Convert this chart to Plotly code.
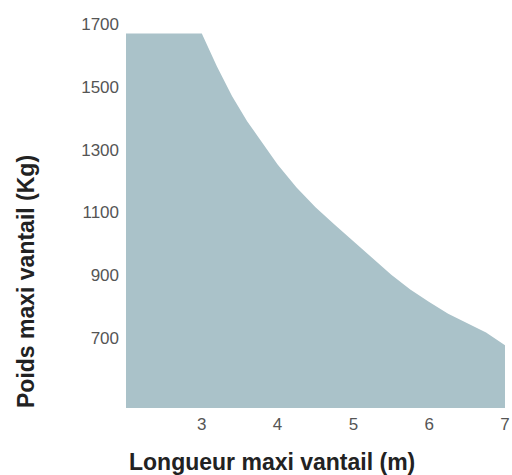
import plotly.graph_objects as go

longueur = [2, 3, 3.2, 3.4, 3.6, 3.8, 4, 4.25, 4.5, 4.75, 5, 5.25, 5.5, 5.75, 6, 6.25, 6.5, 6.75, 7]
poids = [1670, 1670, 1565, 1470, 1390, 1320, 1253, 1180, 1117, 1062, 1009, 957, 902, 855, 815, 778, 748, 718, 678]
x_ticks = [3, 4, 5, 6, 7]
y_ticks = [700, 900, 1100, 1300, 1500, 1700]
y_min = 478

fig = go.Figure()
fig.add_trace(go.Scatter(
    x=longueur, y=poids, mode="lines", line=dict(width=0, color="#aac2c9"),
    fill="tozeroy", fillcolor="#aac2c9", hoverinfo="skip", showlegend=False,
))

fig.update_layout(
    width=512, height=475,
    margin=dict(l=126, r=7, t=24, b=67),
    paper_bgcolor="white", plot_bgcolor="white",
    font=dict(family="Liberation Sans, Arial, sans-serif", color="#444444"),
    xaxis=dict(range=[2, 7], tickvals=x_ticks, showgrid=False, zeroline=False,
               showline=False, ticks="", automargin=False, ticklabeloverflow="allow",
               ticklabelstandoff=4,
               tickfont=dict(size=17, color="#555555")),
    yaxis=dict(range=[y_min, 1700], tickvals=y_ticks, showgrid=False, zeroline=False,
               showline=False, ticks="", ticklabelstandoff=6, automargin=False,
               tickfont=dict(size=17, color="#555555")),
    annotations=[
        dict(text="<b>Longueur maxi vantail (m)</b>", xref="paper", yref="paper",
             x=(272 - 126) / (505 - 126), y=-(462 - 408) / (408 - 24),
             showarrow=False, xanchor="center", yanchor="middle",
             font=dict(size=23, color="#222222")),
        dict(text="<b>Poids maxi vantail (Kg)</b>", xref="paper", yref="paper",
             x=-(126 - 26) / (505 - 126), y=(408 - 282) / (408 - 24),
             showarrow=False, xanchor="center", yanchor="middle", textangle=-90,
             font=dict(size=23, color="#222222")),
    ],
)

fig.write_html("out.html", config={"displayModeBar": False},
               post_script="document.body.style.margin='0';document.body.style.overflow='hidden';")
